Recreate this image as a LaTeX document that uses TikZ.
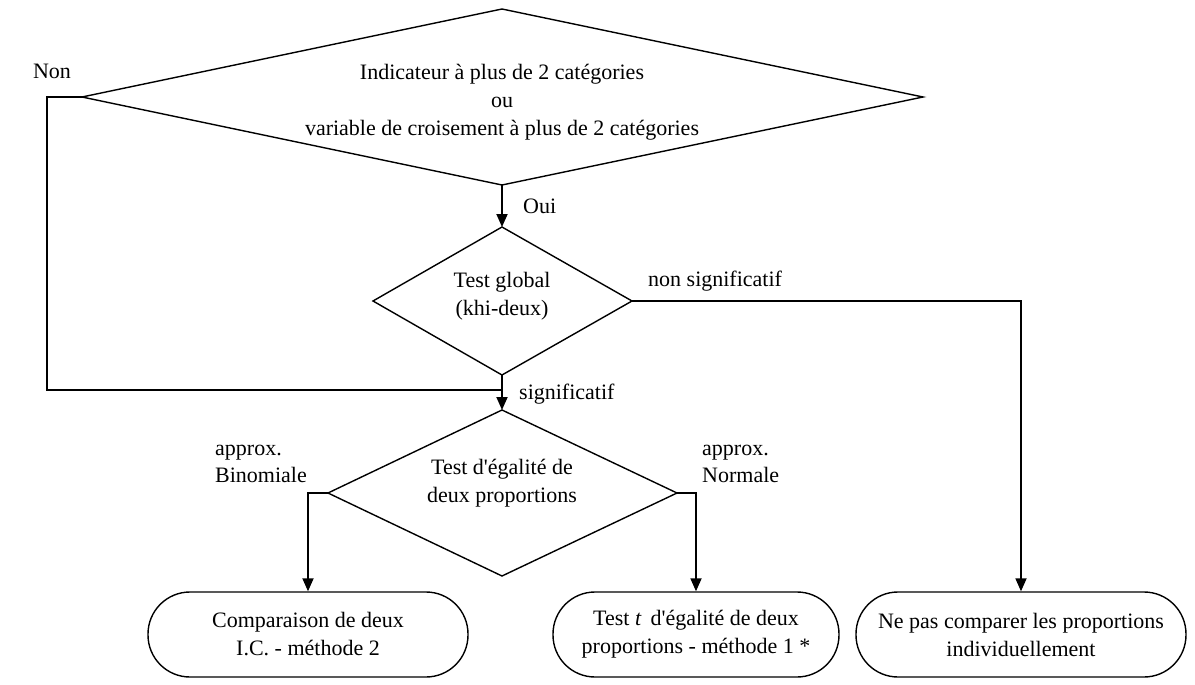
\documentclass[tikz,border=0pt]{standalone}
\usepackage{fontspec}
\newfontfamily\tnr{Liberation Serif}
\usetikzlibrary{arrows.meta}
\begin{document}
\begin{tikzpicture}[x=1pt,y=-1pt,
  shapeline/.style={line width=1.4pt, line join=miter},
  conn/.style={line width=1.8pt},
  arr/.style={conn, -{Triangle[length=13pt,width=11pt]}},
  txt/.style={font=\tnr\fontsize{22}{28}\selectfont, align=center, inner sep=0pt},
  lbl/.style={font=\tnr\fontsize{22}{27}\selectfont, inner sep=0pt},
  endbox/.style={draw, line width=1.4pt, rounded corners=42pt, minimum height=85pt, txt}]
\useasboundingbox (0,0) rectangle (1195,685);

% decision 1
\coordinate (d1t) at (502,9);
\coordinate (d1r) at (923,97);
\coordinate (d1b) at (502,185);
\coordinate (d1l) at (82,97);
\draw[shapeline] (d1t)--(d1r)--(d1b)--(d1l)--cycle;
\node[txt] (q1) at (502,102) {Indicateur à plus de 2 catégories\\ou\\variable de croisement à plus de 2 catégories};

% decision 2
\coordinate (d2t) at (502,227);
\coordinate (d2r) at (632,301);
\coordinate (d2b) at (502,375);
\coordinate (d2l) at (373,301);
\draw[shapeline] (d2t)--(d2r)--(d2b)--(d2l)--cycle;
\node[txt] (q2) at (502,296) {Test global\\(khi-deux)};

% decision 3
\coordinate (d3t) at (502,410);
\coordinate (d3r) at (677,493);
\coordinate (d3b) at (502,576);
\coordinate (d3l) at (328,493);
\draw[shapeline] (d3t)--(d3r)--(d3b)--(d3l)--cycle;
\node[txt] (q3) at (502,483) {Test d'égalité de\\deux proportions};

% end boxes
\node[endbox, minimum width=320pt] (b1) at (308,634.5) {Comparaison de deux\\I.C. - méthode 2};
\node[endbox, minimum width=286pt] (b2) at (696,634.5) {Test \textit{t}\, d'égalité de deux\\proportions - méthode 1 *};
\node[endbox, minimum width=330pt] (b3) at (1021,634.5) {Ne pas comparer les proportions\\individuellement};

% connectors
\coordinate (cnon) at (47,97);
\coordinate (j) at (502,390);
\draw[arr] (d1b) -- (d2t);
\draw[arr] (d2b) -- (d3t);
\draw[conn] (d1l) -- (cnon) |- (j);
\draw[arr] (d2r) -| (b3.north);
\draw[arr] (d3l) -| (b1.north);
\draw[arr] (d3r) -| (b2.north);

% labels
\node[lbl] (lnon) at (52,71) {Non};
\node[lbl, anchor=west] (loui) at (523,206) {Oui};
\node[lbl, anchor=west] (lns) at (648,281) {non significatif};
\node[lbl, anchor=west] (ls) at (519,394) {significatif};
\node[lbl, anchor=west, align=left] (lbin) at (215,464) {approx.\\Binomiale};
\node[lbl, anchor=west, align=left] (lnor) at (702,464) {approx.\\Normale};
\end{tikzpicture}
\end{document}
